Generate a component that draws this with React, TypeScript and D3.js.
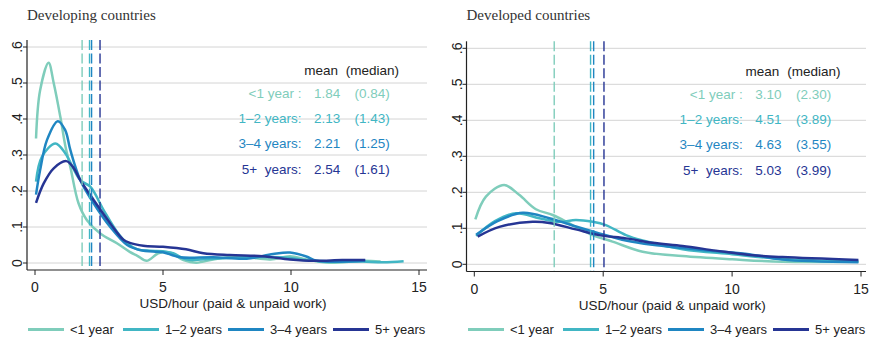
import React from "react";
import * as d3 from "d3";

// groups (years of schooling / experience)
const groups = ["<1 year", "1–2 years", "3–4 years", "5+ years"];
const tableLabels = ["<1 year :", "1–2 years:", "3–4 years:", "5+\u00a0\u00a0years:"];
const colors = ["#7fcdbb", "#41b6c4", "#1f86c2", "#263594"];

const xTicks = [0, 5, 10, 15];
const yTicks = [0, 0.1, 0.2, 0.3, 0.4, 0.5, 0.6];
const yTickLabels = ["0", ".1", ".2", ".3", ".4", ".5", ".6"];

// developing countries: kernel density curves [USD/hour, density]
const devLt1: [number, number][] = [
  [0.04, 0.346], [0.2, 0.48], [0.53, 0.556], [0.73, 0.5], [0.99, 0.406], [1.2, 0.32],
  [1.38, 0.267], [1.7, 0.166], [2.03, 0.119], [2.55, 0.082], [3.2, 0.055], [3.7, 0.031],
  [4.0, 0.02], [4.36, 0.006], [4.82, 0.027], [5.27, 0.029], [5.8, 0.008], [6.3, 0.001],
  [6.96, 0.01], [7.6, 0.016], [8.27, 0.016], [9.2, 0.01], [9.96, 0.019], [10.6, 0.01],
  [11.5, 0.001], [12.8, 0.006], [13.5, 0.004],
];
const dev12: [number, number][] = [
  [0.04, 0.226], [0.27, 0.295], [0.8, 0.332], [1.18, 0.305], [1.77, 0.23], [2.16, 0.212],
  [2.68, 0.147], [3.2, 0.087], [3.6, 0.055], [4.0, 0.038], [4.5, 0.034], [5.0, 0.033],
  [5.4, 0.027], [5.9, 0.01], [6.96, 0.012], [8.27, 0.016], [9.6, 0.016], [10.9, 0.006],
  [12.8, 0.004], [13.6, 0.002], [14.4, 0.005],
];
const dev34: [number, number][] = [
  [0.04, 0.19], [0.2, 0.258], [0.47, 0.342], [0.89, 0.394], [1.18, 0.369], [1.38, 0.314],
  [1.77, 0.23], [2.29, 0.166], [2.94, 0.1], [3.6, 0.05], [4.1, 0.036], [4.75, 0.031],
  [5.0, 0.03], [5.66, 0.016], [6.96, 0.016], [8.27, 0.012], [9.3, 0.025], [9.96, 0.029],
  [10.6, 0.018], [11.0, 0.006], [12.9, 0.006],
];
const dev5: [number, number][] = [
  [0.04, 0.167], [0.34, 0.221], [0.73, 0.263], [1.22, 0.283], [1.5, 0.265], [1.77, 0.23],
  [2.29, 0.175], [2.94, 0.11], [3.45, 0.065], [3.7, 0.056], [4.23, 0.048], [5.0, 0.045],
  [5.9, 0.038], [6.58, 0.027], [7.6, 0.022], [8.9, 0.019], [9.96, 0.01], [10.9, 0.006],
  [12.0, 0.008], [12.9, 0.008],
];

// developed countries
const dvdLt1: [number, number][] = [
  [0.04, 0.125], [0.45, 0.188], [1.16, 0.22], [1.74, 0.193], [2.39, 0.153], [3.04, 0.137],
  [3.81, 0.109], [4.59, 0.081], [5.36, 0.063], [6.53, 0.035], [8.08, 0.023], [10, 0.014],
  [11.95, 0.007], [14.9, 0.007],
];
const dvd12: [number, number][] = [
  [0.07, 0.079], [0.8, 0.12], [1.62, 0.142], [2.52, 0.128], [3.3, 0.118], [3.94, 0.123],
  [4.59, 0.118], [5.1, 0.109], [5.88, 0.081], [6.53, 0.066], [8.08, 0.042], [10, 0.028],
  [11.95, 0.015], [14.9, 0.008],
];
const dvd34: [number, number][] = [
  [0.07, 0.082], [0.9, 0.12], [1.88, 0.143], [2.91, 0.128], [3.94, 0.105], [4.85, 0.086],
  [5.88, 0.066], [6.91, 0.054], [8.08, 0.045], [9.37, 0.036], [10.66, 0.028], [11.95, 0.013],
  [14.9, 0.006],
];
const dvd5: [number, number][] = [
  [0.13, 0.077], [0.97, 0.104], [2.26, 0.118], [2.91, 0.115], [3.94, 0.097], [4.85, 0.081],
  [5.88, 0.072], [6.91, 0.06], [8.08, 0.051], [9.37, 0.038], [10.66, 0.026], [11.95, 0.02],
  [14.9, 0.012],
];

const devMeans = [1.84, 2.13, 2.21, 2.54];
const devMedians = [0.84, 1.43, 1.25, 1.61];
const dvdMeans = [3.1, 4.51, 4.63, 5.03];
const dvdMedians = [2.3, 3.89, 3.55, 3.99];

const panels = [
  {
    title: "Developing countries",
    left: 27, right: 427, x0: 35, x1: 419, yBase: 263, yTop: 47, axisY: 270,
    curves: [devLt1, dev12, dev34, dev5], means: devMeans, medians: devMedians,
    legendX: [28, 123, 228, 333],
  },
  {
    title: "Developed countries",
    left: 466.5, right: 866, x0: 474.3, x1: 861, yBase: 264.3, yTop: 48.3, axisY: 271.5,
    curves: [dvdLt1, dvd12, dvd34, dvd5], means: dvdMeans, medians: dvdMedians,
    legendX: [468, 563, 668, 773],
  },
];

const sans = "'Liberation Sans', Arial, sans-serif";

function Panel({ p }: { p: (typeof panels)[number] }) {
  const x = d3.scaleLinear().domain([0, 15]).range([p.x0, p.x1]);
  const y = d3.scaleLinear().domain([0, 0.6]).range([p.yBase, p.yTop]);
  const line = d3
    .line<[number, number]>()
    .x((d) => x(d[0]))
    .y((d) => y(d[1]))
    .curve(d3.curveCatmullRom.alpha(0.5));
  const top = p.yTop - 7;
  const rowY = [0.458, 0.389, 0.319, 0.247];

  return (
    <g>
      <text x={p.left} y={20} fontFamily="'Liberation Serif', 'DejaVu Serif', serif" fontSize={15} fill="#333">
        {p.title}
      </text>
      {yTicks.map((t, i) => (
        <g key={i}>
          <line x1={p.left} x2={p.right} y1={y(t)} y2={y(t)} stroke="#d4d4d4" strokeWidth={1} />
          <line x1={p.left - 4} x2={p.left} y1={y(t)} y2={y(t)} stroke="#222" strokeWidth={1} />
          <text
            transform={`translate(${p.left - 5},${y(t)}) rotate(-90)`}
            textAnchor="middle"
            fontFamily={sans}
            fontSize={14}
            fill="#222"
          >
            {yTickLabels[i]}
          </text>
        </g>
      ))}
      {p.curves.map((c, i) => (
        <path key={i} d={line(c) ?? ""} fill="none" stroke={colors[i]} strokeWidth={2.5} strokeLinejoin="round" />
      ))}
      {p.means.map((m, i) => (
        <line
          key={i}
          x1={x(m)} x2={x(m)} y1={top} y2={p.axisY}
          stroke={colors[i]} strokeWidth={1.4} strokeDasharray="10,3.5"
        />
      ))}
      <line x1={p.left} x2={p.left} y1={top} y2={p.axisY} stroke="#222" strokeWidth={1.2} />
      <line x1={p.left} x2={p.right} y1={p.axisY} y2={p.axisY} stroke="#222" strokeWidth={1.2} />
      {xTicks.map((t) => (
        <g key={t}>
          <line x1={x(t)} x2={x(t)} y1={p.axisY} y2={p.axisY + 5} stroke="#222" strokeWidth={1} />
          <text x={x(t)} y={p.axisY + 22} textAnchor="middle" fontFamily={sans} fontSize={14} fill="#222">
            {t}
          </text>
        </g>
      ))}
      <text
        x={(p.left + p.right) / 2 + 6}
        y={p.axisY + 38}
        textAnchor="middle"
        fontFamily={sans}
        fontSize={13.5}
        fill="#222"
      >
        USD/hour (paid &amp; unpaid work)
      </text>
      <g fontFamily={sans} fontSize={13.5}>
        <text x={x(10.52)} y={y(0.522)} fill="#222">mean</text>
        <text x={x(12.14)} y={y(0.522)} fill="#222">(median)</text>
        {tableLabels.map((lab, i) => (
          <g key={i} fill={colors[i]}>
            <text x={x(10.41)} y={y(rowY[i])} textAnchor="end">{lab}</text>
            <text x={x(10.9)} y={y(rowY[i])}>{p.means[i].toFixed(2)}</text>
            <text x={x(12.48)} y={y(rowY[i])}>({p.medians[i].toFixed(2)})</text>
          </g>
        ))}
      </g>
      {groups.map((g, i) => (
        <g key={g}>
          <line
            x1={p.legendX[i]} x2={p.legendX[i] + 36} y1={329.5} y2={329.5}
            stroke={colors[i]} strokeWidth={3}
          />
          <text x={p.legendX[i] + 42} y={334} fontFamily={sans} fontSize={13} fill="#222">
            {g}
          </text>
        </g>
      ))}
    </g>
  );
}

export default function App() {
  return (
    <div style={{ position: "absolute", left: 0, top: 0 }}>
      <svg width={871} height={339} style={{ display: "block", background: "#fff" }}>
        {panels.map((p) => (
          <Panel key={p.title} p={p} />
        ))}
      </svg>
    </div>
  );
}
